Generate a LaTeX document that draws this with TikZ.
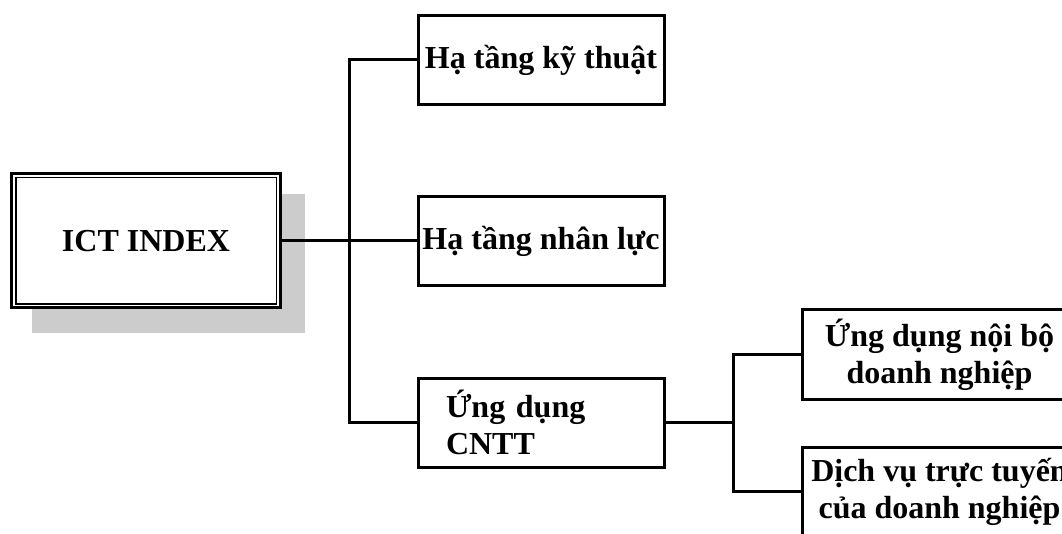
\documentclass[tikz,border=0pt]{standalone}
\usepackage{fontspec}
\setmainfont{Liberation Serif}
\begin{document}
\begin{tikzpicture}[x=1pt,y=-1pt,
  box/.style={draw, line width=3pt, outer sep=0pt, inner sep=0pt, fill=white,
    minimum width=246pt, minimum height=89pt, align=center,
    font=\fontsize{32}{37}\selectfont\bfseries},
  widebox/.style={box, minimum width=274pt},
  conn/.style={line width=3pt}]
\useasboundingbox (0,0) rectangle (1062,534);
\clip (0,0) rectangle (1062,534);
% shadow
\fill[gray!40] (32,194) rectangle (305,333);
% main box
\node[box, minimum width=269pt, minimum height=134pt] (ict) at (146,241) {ICT INDEX};
\draw[line width=1.5pt] ([shift={(4.25,3.75)}]ict.north west) rectangle ([shift={(-4.25,-3.75)}]ict.south east);
% level 1
\node[box] (b1) at (541,60) {Hạ tầng kỹ thuật};
\node[box] (b2) at (541,241) {Hạ tầng nhân lực};
\node[box, text width=190pt, align=left] (b3) at (541,422.5) {Ứng dụng\\CNTT};
% level 2
\node[widebox] (b4) at (939.5,354.5) {Ứng dụng nội bộ\\doanh nghiệp};
\node[widebox] (b5) at (939.5,491.5) {Dịch vụ trực tuyến\\của doanh nghiệp};
% connectors
\coordinate (j) at (349,241);
\coordinate (k) at (733,422.5);
\draw[conn] (ict.east) -- (b2.west);
\draw[conn] (b1.west) -- (b1.west -| j) -- (b3.west -| j) -- (b3.west);
\draw[conn] (b3.east) -- (k);
\draw[conn] (b4.west) -- (b4.west -| k) -- (b5.west -| k) -- (b5.west);
\end{tikzpicture}
\end{document}
